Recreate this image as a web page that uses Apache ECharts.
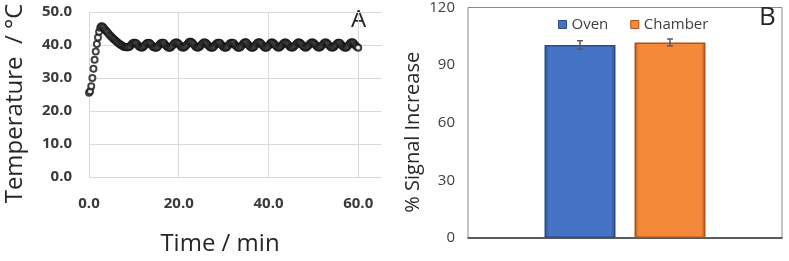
<!DOCTYPE html>
<html>
<head>
<meta charset="utf-8">
<script src="https://cdn.jsdelivr.net/npm/echarts@6/dist/echarts.min.js"></script>
<style>
  html, body { margin: 0; padding: 0; background: #fff; }
  #chart { width: 789px; height: 261px; }
</style>
</head>
<body>
<div id="chart"></div>
<script>
// panel A: temperature read every 0.25 min from 0 to 60 min
const sampleStep = 0.25;
const temperature = [
  25.5, 26.0, 27.5, 30.0, 32.8, 35.5, 38.0, 40.3, 42.3, 44.0, 45.2, 45.7,
  45.6, 45.2, 44.8, 44.4, 44.0, 43.6, 43.2, 42.8, 42.5, 42.1, 41.8, 41.5,
  41.2, 40.9, 40.6, 40.4, 40.1, 39.9, 39.7, 39.5, 39.4, 39.3, 39.3, 39.3,
  39.5, 39.8, 40.2, 40.5, 40.7, 40.7, 40.5, 40.2, 39.8, 39.5, 39.3, 39.2,
  39.3, 39.6, 40.0, 40.4, 40.6, 40.7, 40.6, 40.3, 39.9, 39.5, 39.3, 39.2,
  39.2, 39.4, 39.8, 40.2, 40.5, 40.7, 40.7, 40.5, 40.1, 39.7, 39.4, 39.2,
  39.2, 39.3, 39.7, 40.1, 40.5, 40.7, 40.8, 40.6, 40.3, 39.9, 39.5, 39.3,
  39.2, 39.3, 39.6, 40.0, 40.4, 40.8, 41.0, 41.0, 40.7, 40.3, 39.9, 39.5,
  39.3, 39.2, 39.3, 39.6, 40.0, 40.4, 40.7, 40.8, 40.7, 40.4, 40.0, 39.6,
  39.3, 39.2, 39.2, 39.4, 39.8, 40.2, 40.5, 40.7, 40.7, 40.5, 40.1, 39.7,
  39.4, 39.2, 39.2, 39.4, 39.8, 40.2, 40.5, 40.7, 40.7, 40.5, 40.1, 39.7,
  39.4, 39.2, 39.2, 39.4, 39.8, 40.2, 40.6, 40.8, 40.8, 40.5, 40.1, 39.7,
  39.4, 39.2, 39.2, 39.4, 39.8, 40.2, 40.6, 40.8, 40.8, 40.6, 40.2, 39.8,
  39.4, 39.2, 39.2, 39.4, 39.8, 40.2, 40.6, 40.8, 40.7, 40.4, 40.0, 39.6,
  39.3, 39.2, 39.3, 39.6, 40.0, 40.4, 40.7, 40.8, 40.6, 40.3, 39.9, 39.5,
  39.3, 39.2, 39.3, 39.6, 40.0, 40.4, 40.7, 40.8, 40.7, 40.4, 40.0, 39.6,
  39.3, 39.2, 39.3, 39.6, 40.0, 40.4, 40.7, 40.8, 40.7, 40.4, 40.0, 39.6,
  39.3, 39.2, 39.3, 39.6, 40.0, 40.4, 40.7, 40.8, 40.6, 40.3, 39.9, 39.5,
  39.3, 39.2, 39.3, 39.6, 40.0, 40.4, 40.7, 40.7, 40.5, 40.1, 39.7, 39.4,
  39.2, 39.2, 39.4, 39.8, 40.2, 40.6, 40.8, 40.8, 40.5, 40.1, 39.7, 39.4,
  39.2
];
const timeTicks = [0, 20, 40, 60];

// panel B: signal increase
const groups = ['Oven', 'Chamber'];
const signalMean = [100.5, 101.8];
const signalErr = [2.2, 1.8];
const groupColors = ['#4472C4', '#F5893A'];
const groupBorders = ['#2B4C86', '#A9561C'];

const barWidth = 71;
const barGapPx = 19;

const font = '"Open Sans", "Liberation Sans", sans-serif';
const chart = echarts.init(document.getElementById('chart'));

const tempData = temperature.map((v, i) => [i * sampleStep, v]);

const barSeries = groups.map((name, i) => ({
  name: name,
  type: 'bar',
  xAxisIndex: 1,
  yAxisIndex: 1,
  data: [signalMean[i]],
  barWidth: barWidth,
  barGap: (barGapPx / barWidth * 100) + '%',
  animation: false,
  itemStyle: {
    color: {
      type: 'linear', x: 0, y: 0, x2: 1, y2: 0,
      colorStops: [
        {offset: 0, color: groupBorders[i]},
        {offset: 0.06, color: groupColors[i]},
        {offset: 0.94, color: groupColors[i]},
        {offset: 1, color: groupBorders[i]}
      ]
    },
    borderColor: groupBorders[i],
    borderWidth: 1.5
  }
}));

const errorSeries = {
  type: 'custom',
  xAxisIndex: 1,
  yAxisIndex: 1,
  animation: false,
  silent: true,
  z: 5,
  data: groups.map((g, i) => [0, signalMean[i] - signalErr[i], signalMean[i] + signalErr[i], i]),
  renderItem: function (params, api) {
    const shift = (api.value(3) === 0 ? -1 : 1) * (barWidth + barGapPx) / 2;
    const lo = api.coord([api.value(0), api.value(1)]);
    const hi = api.coord([api.value(0), api.value(2)]);
    const x = lo[0] + shift;
    const cap = 3;
    const style = {stroke: '#5a5a5a', lineWidth: 1.5};
    return {
      type: 'group',
      children: [
        {type: 'line', shape: {x1: x, y1: lo[1], x2: x, y2: hi[1]}, style: style},
        {type: 'line', shape: {x1: x - cap, y1: lo[1], x2: x + cap, y2: lo[1]}, style: style},
        {type: 'line', shape: {x1: x - cap, y1: hi[1], x2: x + cap, y2: hi[1]}, style: style}
      ]
    };
  }
};

const option = {
  textStyle: {fontFamily: font},
  grid: [
    {left: 89, right: 407, top: 12, bottom: 79},
    {left: 468, right: 7, top: 7, bottom: 23, show: true, borderColor: '#8a8a8a', borderWidth: 1}
  ],
  legend: {
    data: groups,
    left: 553,
    top: 12,
    icon: 'rect',
    itemWidth: 8,
    itemHeight: 8,
    itemGap: 22,
    textStyle: {fontFamily: font, fontSize: 15, color: '#404040'},
    itemStyle: {borderWidth: 1}
  },
  xAxis: [{
    type: 'value',
    gridIndex: 0,
    min: 0,
    max: 65.3,
    interval: 20,
    name: 'Time / min',
    nameLocation: 'middle',
    nameGap: 55,
    nameTextStyle: {fontFamily: font, fontSize: 24, color: '#262626', padding: [0, 31, 0, 0]},
    axisLine: {show: false},
    axisTick: {show: false},
    axisLabel: {
      margin: 19,
      fontSize: 15,
      fontWeight: 'bold',
      color: '#3a3a3a',
      formatter: v => timeTicks.indexOf(v) >= 0 ? v.toFixed(1) : ''
    },
    splitLine: {show: true, showMaxLine: false, lineStyle: {color: '#d9d9d9'}}
  }, {
    type: 'category',
    gridIndex: 1,
    data: [''],
    axisLine: {lineStyle: {color: '#3a3a3a', width: 1.5}},
    axisTick: {show: false},
    axisLabel: {show: false}
  }],
  yAxis: [{
    type: 'value',
    gridIndex: 0,
    min: 0,
    max: 50,
    interval: 10,
    name: 'Temperature  / °C',
    nameLocation: 'middle',
    nameGap: 62,
    nameTextStyle: {fontFamily: font, fontSize: 24, color: '#262626', padding: [0, 18, 0, 0]},
    axisLine: {show: false},
    axisTick: {show: false},
    axisLabel: {margin: 17, fontSize: 15, fontWeight: 'bold', color: '#3a3a3a', formatter: v => v.toFixed(1)},
    splitLine: {lineStyle: {color: '#d9d9d9'}}
  }, {
    type: 'value',
    gridIndex: 1,
    min: 0,
    max: 120,
    interval: 30,
    name: '% Signal Increase',
    nameLocation: 'middle',
    nameGap: 45,
    nameTextStyle: {fontFamily: font, fontSize: 20, color: '#262626', padding: [0, 19, 0, 0]},
    axisLine: {show: false},
    axisTick: {show: false},
    axisLabel: {margin: 13, fontSize: 15, color: '#404040'},
    splitLine: {show: false}
  }],
  graphic: [
    {type: 'text', left: 351, top: 8, style: {text: 'A', font: '24px ' + font, fill: '#262626'}},
    {type: 'text', left: 759, top: 5, style: {text: 'B', font: '26px ' + font, fill: '#262626'}}
  ],
  series: [{
    name: 'Temperature',
    type: 'scatter',
    xAxisIndex: 0,
    yAxisIndex: 0,
    data: tempData,
    symbol: 'emptyCircle',
    symbolSize: 6,
    animation: false,
    itemStyle: {color: '#141414', borderColor: '#141414', borderWidth: 1.6}
  }].concat(barSeries, [errorSeries])
};

chart.setOption(option);
</script>
</body>
</html>
